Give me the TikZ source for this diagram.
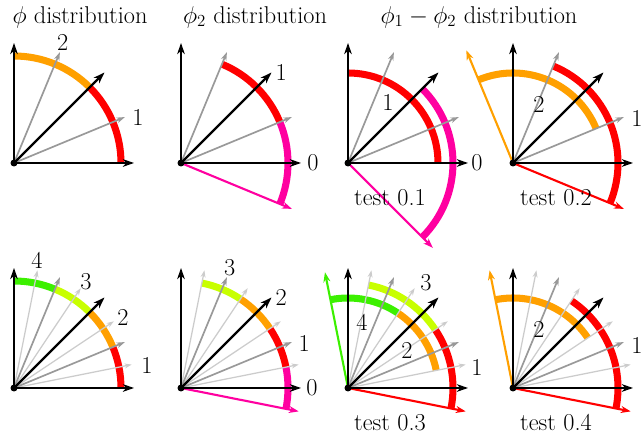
\documentclass[tikz,border=0pt]{standalone}
\usepackage{tikz}
\usetikzlibrary{arrows.meta, positioning}

\definecolor{binred}{RGB}{255,0,0}
\definecolor{binorange}{RGB}{255,160,0}
\definecolor{binpink}{RGB}{255,0,160}
\definecolor{binlime}{RGB}{200,255,0}
\definecolor{bingreen}{RGB}{60,240,0}

\begin{document}
\begin{tikzpicture}[x=0.025cm, y=0.025cm,
    axis/.style={-{Stealth[length=8pt, width=5.5pt]}, line width=1.8pt},
    mean/.style={-{Stealth[length=8pt, width=5.5pt]}, line width=1.6pt},
    bound/.style={-{Stealth[length=6pt, width=4pt]}, line width=1.2pt, black!40},
    fine/.style={-{Stealth[length=5pt, width=3.5pt]}, line width=0.9pt, black!20},
    shiftvec/.style={-{Stealth[length=7pt, width=5pt]}, line width=1.5pt},
    bin/.style={line width=5pt},
    lab/.style={font=\fontsize{17.28}{20}\selectfont, inner sep=0pt},
    tag/.style={font=\fontsize{17.28}{20}\selectfont, inner sep=0pt}]
    \useasboundingbox (0,0) rectangle (641,439);

    % Titulos
    \node[tag] (title1) at (80,422) {$\phi$ distribution};
    \node[tag] (title2) at (255,422) {$\phi_2$ distribution};
    \node[tag] (title3) at (479,422) {$\phi_1-\phi_2$ distribution};

    % phi, 2 bins
    \begin{scope}[shift={(14,276)}]
        \draw[bin, binred] (0:107) arc[start angle=0, end angle=45, radius=107];
        \draw[bin, binorange] (45:107) arc[start angle=45, end angle=90, radius=107];
        \foreach \a in {22.5, 67.5} \draw[bound] (0,0) -- (\a:120);
        \draw[mean] (0,0) -- (45:128);
        \draw[axis] (0,0) -- (120,0);
        \draw[axis] (0,0) -- (0,120);
        \fill (0,0) circle[radius=3.5];
        \node[lab] (aone) at (20:132) {1};
        \node[lab] (atwo) at (68:130) {2};
    \end{scope}

    % phi_2, 2 bins
    \begin{scope}[shift={(181,276)}]
        \draw[bin, binpink] (-22.5:107) arc[start angle=-22.5, end angle=22.5, radius=107];
        \draw[bin, binred] (22.5:107) arc[start angle=22.5, end angle=67.5, radius=107];
        \foreach \a in {22.5, 67.5} \draw[bound] (0,0) -- (\a:120);
        \draw[shiftvec, binpink] (0,0) -- (-22.5:120);
        \draw[mean] (0,0) -- (45:128);
        \draw[axis] (0,0) -- (120,0);
        \draw[axis] (0,0) -- (0,120);
        \fill (0,0) circle[radius=3.5];
        \node[lab] (bzero) at (0:132) {0};
        \node[lab] (bone) at (42:135) {1};
    \end{scope}

    % test 0.1
    \begin{scope}[shift={(348,276)}]
        \draw[bin, binred] (0:90) arc[start angle=0, end angle=90, radius=90];
        \draw[bin, binpink] (-45:105) arc[start angle=-45, end angle=45, radius=105];
        \foreach \a in {22.5, 67.5} \draw[bound] (0,0) -- (\a:120);
        \draw[shiftvec, binpink] (0,0) -- (-45:120);
        \draw[mean] (0,0) -- (45:128);
        \draw[axis] (0,0) -- (120,0);
        \draw[axis] (0,0) -- (0,120);
        \fill (0,0) circle[radius=3.5];
        \node[lab] (cone) at (40,61) {1};
        \node[lab] (czero) at (129,0) {0};
        \node[tag] (ctest) at (42,-35) {test 0.1};
    \end{scope}

    % test 0.2
    \begin{scope}[shift={(513,276)}]
        \draw[bin, binorange] (22.5:90) arc[start angle=22.5, end angle=112.5, radius=90];
        \draw[bin, binred] (-22.5:105) arc[start angle=-22.5, end angle=67.5, radius=105];
        \foreach \a in {22.5, 67.5} \draw[bound] (0,0) -- (\a:120);
        \draw[shiftvec, binorange] (0,0) -- (112.5:122);
        \draw[shiftvec, binred] (0,0) -- (-22.5:120);
        \draw[mean] (0,0) -- (45:128);
        \draw[axis] (0,0) -- (120,0);
        \draw[axis] (0,0) -- (0,120);
        \fill (0,0) circle[radius=3.5];
        \node[lab] (dtwo) at (26,59) {2};
        \node[lab] (done) at (124,45) {1};
        \node[tag] (dtest) at (43,-35) {test 0.2};
    \end{scope}

    % phi, 4 bins
    \begin{scope}[shift={(14,51)}]
        \draw[bin, binred] (0:107) arc[start angle=0, end angle=22.5, radius=107];
        \draw[bin, binorange] (22.5:107) arc[start angle=22.5, end angle=45, radius=107];
        \draw[bin, binlime] (45:107) arc[start angle=45, end angle=67.5, radius=107];
        \draw[bin, bingreen] (67.5:107) arc[start angle=67.5, end angle=90, radius=107];
        \foreach \a in {11.25, 33.75, 56.25, 78.75} \draw[fine] (0,0) -- (\a:120);
        \foreach \a in {22.5, 67.5} \draw[bound] (0,0) -- (\a:120);
        \draw[mean] (0,0) -- (45:128);
        \draw[axis] (0,0) -- (120,0);
        \draw[axis] (0,0) -- (0,120);
        \fill (0,0) circle[radius=3.5];
        \node[lab] (eone) at (133,23) {1};
        \node[lab] (etwo) at (109,71) {2};
        \node[lab] (ethree) at (72,106) {3};
        \node[lab] (efour) at (23,128) {4};
    \end{scope}

    % phi_2, 4 bins
    \begin{scope}[shift={(181,51)}]
        \draw[bin, binpink] (-11.25:107) arc[start angle=-11.25, end angle=11.25, radius=107];
        \draw[bin, binred] (11.25:107) arc[start angle=11.25, end angle=33.75, radius=107];
        \draw[bin, binorange] (33.75:107) arc[start angle=33.75, end angle=56.25, radius=107];
        \draw[bin, binlime] (56.25:107) arc[start angle=56.25, end angle=78.75, radius=107];
        \foreach \a in {11.25, 33.75, 56.25, 78.75} \draw[fine] (0,0) -- (\a:120);
        \foreach \a in {22.5, 67.5} \draw[bound] (0,0) -- (\a:120);
        \draw[shiftvec, binpink] (0,0) -- (-11.25:120);
        \draw[mean] (0,0) -- (45:128);
        \draw[axis] (0,0) -- (120,0);
        \draw[axis] (0,0) -- (0,120);
        \fill (0,0) circle[radius=3.5];
        \node[lab] (fzero) at (0:131) {0};
        \node[lab] (fone) at (20:131) {1};
        \node[lab] (ftwo) at (42:135) {2};
        \node[lab] (fthree) at (68:130) {3};
    \end{scope}

    % test 0.3
    \begin{scope}[shift={(348,51)}]
        \draw[bin, bingreen] (56.25:90) arc[start angle=56.25, end angle=101.25, radius=90];
        \draw[bin, binorange] (11.25:90) arc[start angle=11.25, end angle=56.25, radius=90];
        \draw[bin, binlime] (33.75:105) arc[start angle=33.75, end angle=78.75, radius=105];
        \draw[bin, binred] (-11.25:105) arc[start angle=-11.25, end angle=33.75, radius=105];
        \foreach \a in {11.25, 33.75, 56.25, 78.75} \draw[fine] (0,0) -- (\a:120);
        \foreach \a in {22.5, 67.5} \draw[bound] (0,0) -- (\a:120);
        \draw[shiftvec, bingreen] (0,0) -- (101.25:118);
        \draw[shiftvec, binred] (0,0) -- (-11.25:120);
        \draw[mean] (0,0) -- (45:128);
        \draw[axis] (0,0) -- (120,0);
        \draw[axis] (0,0) -- (0,120);
        \fill (0,0) circle[radius=3.5];
        \node[lab] (gfour) at (14,66) {4};
        \node[lab] (gtwo) at (59,38) {2};
        \node[lab] (gthree) at (78,105) {3};
        \node[lab] (gone) at (129,21) {1};
        \node[tag] (gtest) at (42,-35) {test 0.3};
    \end{scope}

    % test 0.4
    \begin{scope}[shift={(513,51)}]
        \draw[bin, binorange] (33.75:90) arc[start angle=33.75, end angle=101.25, radius=90];
        \draw[bin, binred] (-11.25:105) arc[start angle=-11.25, end angle=56.25, radius=105];
        \foreach \a in {11.25, 33.75, 56.25, 78.75} \draw[fine] (0,0) -- (\a:120);
        \foreach \a in {22.5, 67.5} \draw[bound] (0,0) -- (\a:120);
        \draw[shiftvec, binorange] (0,0) -- (101.25:120);
        \draw[shiftvec, binred] (0,0) -- (-11.25:120);
        \draw[mean] (0,0) -- (45:128);
        \draw[axis] (0,0) -- (120,0);
        \draw[axis] (0,0) -- (0,120);
        \fill (0,0) circle[radius=3.5];
        \node[lab] (htwo) at (26,59) {2};
        \node[lab] (hone) at (124,43) {1};
        \node[tag] (htest) at (43,-35) {test 0.4};
    \end{scope}
\end{tikzpicture}
\end{document}
